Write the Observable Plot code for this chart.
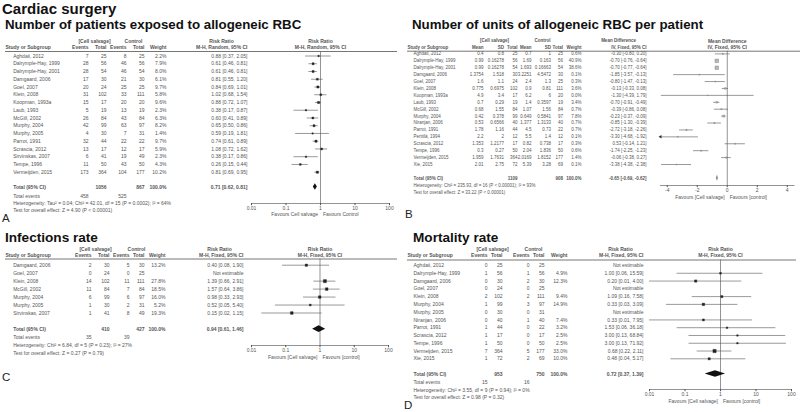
<!DOCTYPE html>
<html><head><meta charset="utf-8">
<script src="https://cdn.jsdelivr.net/npm/d3@7"></script>
<script src="https://cdn.jsdelivr.net/npm/@observablehq/plot@0.6"></script>
<style>
html,body{margin:0;padding:0;background:#fff;}
#page{position:relative;width:800px;height:412px;overflow:hidden;background:#fff;}
.ttl{position:absolute;font-family:"Liberation Sans",Arial,sans-serif;font-weight:700;color:#111;white-space:nowrap;line-height:1;}
.lett{position:absolute;font-family:"Liberation Sans",Arial,sans-serif;color:#222;font-size:11.5px;line-height:1;}
</style></head><body><div id="page"></div>
<script>
// ---------- shared ticks ----------
const logTicks = [0.01, 0.1, 1, 10, 100];
const mdTicks = [-4, -2, 0, 2, 4];

// ---------- Panel A: patients exposed to allogeneic RBC ----------
const studiesA = ["Aghdaii, 2012","Dalrymple-Hay, 1999","Dalrymple-Hay, 2001","Damgaard, 2006","Goel, 2007","Klein, 2008","Koopman, 1993a","Laub, 1993","McGill, 2002","Murphy, 2004","Murphy, 2005","Parrot, 1991","Scrascia, 2012","Sirvinskas, 2007","Tempe, 1996","Vermeijden, 2015"];
const csEventsA = [7,28,28,17,20,31,15,5,26,42,4,32,13,6,11,173];
const csTotalA  = [25,56,54,30,24,102,17,19,84,99,30,44,17,41,50,364];
const ctEventsA = [8,46,46,21,25,33,20,13,43,63,7,22,12,19,43,104];
const ctTotalA  = [25,56,54,30,25,111,20,19,84,97,31,22,17,49,50,177];
const weightA   = [2.2,7.9,8.0,6.1,9.7,5.8,9.6,2.3,6.3,8.2,1.4,9.7,5.9,2.3,4.3,10.2];
const rrA   = [0.88,0.61,0.61,0.81,0.84,1.02,0.88,0.38,0.60,0.65,0.59,0.74,1.08,0.38,0.26,0.81];
const lowA  = [0.37,0.46,0.46,0.55,0.69,0.68,0.72,0.17,0.41,0.50,0.19,0.61,0.72,0.17,0.15,0.69];
const highA = [2.05,0.81,0.81,1.20,1.01,1.54,1.07,0.87,0.89,0.86,1.81,0.89,1.62,0.86,0.44,0.95];
const totalsA = [1056, 867];
const eventSumsA = [458, 525];
const pooledA = [0.71, 0.62, 0.81];
const hetA = "Heterogeneity: Tau² = 0.04; Chi² = 42.01, df = 15 (P = 0.0002); I² = 64%";
const testA = "Test for overall effect: Z = 4.90 (P < 0.00001)";

// ---------- Panel B: units of allogeneic RBC per patient ----------
const studiesB = ["Aghdaii, 2012","Dalrymple-Hay, 1999","Dalrymple-Hay, 2001","Damgaard, 2006","Goel, 2007","Klein, 2008","Koopman, 1993a","Laub, 1993","McGill, 2002","Murphy, 2004","Niranjan, 2006","Parrot, 1991","Perttilä, 1994","Scrascia, 2012","Tempe, 1996","Vermeijden, 2015","Xie, 2015"];
const csMeanB = [0.4,0.99,0.99,1.3754,1.6,0.775,4.9,0.7,0.68,0.42,0.53,1.78,2.2,1.353,0.3,1.959,2.01];
const csSdB   = [0.8,0.16278,0.16278,1.518,1.1,0.6975,3.4,0.29,1.55,0.378,0.6566,1.16,2,1.2177,0.27,1.7631,2.75];
const csNB    = [25,56,54,30,24,102,17,19,84,99,40,44,12,17,50,364,72];
const ctMeanB = [0.7,1.69,1.693,3.2251,2.4,0.9,6.2,1.4,1.07,0.649,1.377,4.5,5.5,0.82,2.04,2.0169,5.39];
const ctSdB   = [1,0.163,0.16663,4.5472,1.3,0.81,6,0.3597,1.56,0.5841,1.3133,0.73,1.4,0.738,1.836,1.8152,3.28];
const ctNB    = [25,56,54,30,25,111,20,19,84,97,40,22,12,17,50,177,69];
const weightB = [0.6,40.9,38.6,0.1,0.3,3.6,0.0,3.4,0.7,7.8,0.7,0.7,0.1,0.3,0.6,1.4,0.1];
const mdB   = [-0.30,-0.70,-0.70,-1.85,-0.80,-0.13,-1.30,-0.70,-0.39,-0.23,-0.85,-2.72,-3.30,0.53,-1.74,-0.06,-3.38];
const lowB  = [-0.80,-0.76,-0.77,-3.57,-1.47,-0.33,-4.39,-0.91,-0.86,-0.37,-1.30,-3.18,-4.68,-0.14,-2.25,-0.38,-4.38];
const highB = [0.20,-0.64,-0.64,-0.13,-0.13,0.08,1.79,-0.49,0.08,-0.09,-0.39,-2.26,-1.92,1.21,-1.23,0.27,-2.38];
const totalsB = [1109, 908];
const pooledB = [-0.65, -0.69, -0.62];
const hetB = "Heterogeneity: Chi² = 235.93, df = 16 (P < 0.00001); I² = 93%";
const testB = "Test for overall effect: Z = 33.22 (P < 0.00001)";

// ---------- Panel C: infections rate ----------
const studiesC = ["Damgaard, 2006","Goel, 2007","Klein, 2008","McGill, 2002","Murphy, 2004","Murphy, 2005","Sirvinskas, 2007"];
const csEventsC = [2,0,14,11,6,1,1];
const csTotalC  = [30,24,102,84,99,30,41];
const ctEventsC = [5,0,11,7,6,2,8];
const ctTotalC  = [30,25,111,84,97,31,49];
const weightC = [13.2,null,27.8,18.5,16.0,5.2,19.3];
const rrC   = [0.40,null,1.39,1.57,0.98,0.52,0.15];
const lowC  = [0.08,null,0.66,0.64,0.33,0.05,0.02];
const highC = [1.90,null,2.91,3.86,2.93,5.40,1.15];
const totalsC = [410, 427];
const eventSumsC = [35, 39];
const pooledC = [0.94, 0.61, 1.46];
const hetC = "Heterogeneity: Chi² = 6.84, df = 5 (P = 0.23); I² = 27%";
const testC = "Test for overall effect: Z = 0.27 (P = 0.79)";

// ---------- Panel D: mortality rate ----------
const studiesD = ["Aghdaii, 2012","Dalrymple-Hay, 1999","Damgaard, 2006","Goel, 2007","Klein, 2008","Murphy, 2004","Murphy, 2005","Niranjan, 2006","Parrot, 1991","Scrascia, 2012","Tempe, 1996","Vermeijden, 2015","Xie, 2015"];
const csEventsD = [0,1,0,0,2,1,0,0,1,1,1,7,1];
const csTotalD  = [25,56,30,24,102,99,30,40,44,17,50,364,72];
const ctEventsD = [0,1,2,0,2,3,0,1,0,0,0,5,2];
const ctTotalD  = [25,56,30,25,111,97,31,40,22,17,50,177,69];
const weightD = [null,4.9,12.3,null,9.4,14.9,null,7.4,3.2,2.5,2.5,33.0,10.0];
const rrD   = [null,1.00,0.20,null,1.09,0.33,null,0.33,1.53,3.00,3.00,0.68,0.48];
const lowD  = [null,0.06,0.01,null,0.16,0.03,null,0.01,0.06,0.13,0.13,0.22,0.04];
const highD = [null,15.59,4.00,null,7.58,3.09,null,7.95,36.18,68.84,71.92,2.11,5.17];
const totalsD = [953, 750];
const eventSumsD = [15, 16];
const pooledD = [0.72, 0.37, 1.39];
const hetD = "Heterogeneity: Chi² = 3.55, df = 9 (P = 0.94); I² = 0%";
const testD = "Test for overall effect: Z = 0.98 (P = 0.32)";

// ---------- layout (pixels) ----------
const FONT = "Liberation Sans, Arial, sans-serif";
const TXT = "#555";
const LINE = "#666";

const page = document.getElementById("page");

function f2(v) { return v.toFixed(2); }
function ci(e, l, h) { return `${f2(e)} [${f2(l)}, ${f2(h)}]`; }
function rowConv(L) { const step = (L.last - L.first) / (L.n - 1); return px => (px - L.first) / step; }

// place a title by its baseline (Liberation Sans, line-height 1)
function addTitle(text, x, baseline, size) {
  const d = document.createElement("div");
  d.className = "ttl";
  d.textContent = text;
  d.style.left = x + "px";
  d.style.top = (baseline - 0.8465 * size) + "px";
  d.style.fontSize = size + "px";
  page.appendChild(d);
}
function addLetter(text, x, cy) {
  const d = document.createElement("div");
  d.className = "lett";
  d.textContent = text;
  d.style.left = x + "px";
  d.style.top = (cy - 5.5) + "px";
  page.appendChild(d);
}

function textMarks(cells, fs) {
  const marks = [];
  for (const bold of [false, true]) for (const a of ["start", "middle", "end"]) {
    const sub = cells.filter(c => !!c.bold === bold && c.a === a);
    if (sub.length) marks.push(Plot.text(sub, {x: "x", y: "y", text: "t", textAnchor: a, fontSize: fs, fill: TXT, fontWeight: bold ? "bold" : "normal"}));
  }
  return marks;
}

function tablePlot(L, cells) {
  return Plot.plot({
    width: 800, height: 412,
    marginTop: L.lineY, marginBottom: 0, marginLeft: L.lineX1, marginRight: 800 - L.lineX2,
    style: {background: "transparent", position: "absolute", left: "0px", top: "0px", overflow: "visible", fontFamily: FONT},
    x: {domain: [0, 800], range: [0, 800], axis: null},
    y: {domain: [0, L.n - 1], range: [L.first, L.last], axis: null},
    marks: [
      Plot.frame({anchor: "top", stroke: LINE, strokeWidth: 0.9}),
      ...textMarks(cells, L.fs)
    ]
  });
}

function forestPlot(L, F, rows, pooled, labels) {
  const row = rowConv(L);
  const totalRow = row(L.total);
  const h = F.diamondH;
  const diamond = [
    {x: pooled[1], y1: totalRow, y2: totalRow},
    {x: pooled[0], y1: totalRow - h, y2: totalRow + h},
    {x: pooled[2], y1: totalRow, y2: totalRow}
  ];
  const est = rows.filter(d => d.est != null);
  const dmin = F.domain[0];
  const fs = F.fs;
  return Plot.plot({
    width: 800, height: 412,
    marginTop: L.lineY, marginBottom: 412 - F.axisY, marginLeft: F.x0, marginRight: 800 - F.x1,
    style: {background: "transparent", position: "absolute", left: "0px", top: "0px", overflow: "visible", fontFamily: FONT},
    x: {type: F.type, domain: F.domain},
    y: {domain: [0, L.n - 1], range: [L.first, L.last], axis: null},
    r: {type: "sqrt", domain: [0, 41], range: [0.45, 2.0]},
    marks: [
      Plot.ruleX([F.center], {stroke: LINE, strokeWidth: 0.7}),
      Plot.frame({anchor: "bottom", stroke: LINE, strokeWidth: 0.7}),
      Plot.axisX({ticks: F.ticks, tickFormat: d => String(d), tickSize: 2.2, tickPadding: 1, fontSize: fs, color: TXT, label: null}),
      Plot.ruleY(est, {y: "i", x1: "low", x2: "high", stroke: "#555", strokeWidth: 0.6, clip: true}),
      Plot.dot(est.filter(d => d.low < dmin), {x: () => dmin, y: "i", symbol: "triangle", rotate: -90, r: 1.3, fill: "#333"}),
      Plot.dot(est, {x: "est", y: "i", r: "w", symbol: "square", fill: F.sqFill, stroke: F.sqStroke, strokeWidth: 0.4}),
      Plot.areaY(diamond, {x: "x", y1: "y1", y2: "y2", fill: "#111"}),
      Plot.text([labels.h1], {x: () => F.center, y: () => row(L.h1), text: d => d, fontSize: fs, fill: TXT, fontWeight: "bold"}),
      Plot.text([labels.h2], {x: () => F.center, y: () => row(L.h2), text: d => d, fontSize: fs, fill: TXT, fontWeight: "bold"}),
      Plot.text([labels.favL], {x: () => F.center, y: () => row(L.fav), text: d => d, dx: -2.5, textAnchor: "end", fontSize: fs, fill: TXT}),
      Plot.text([labels.favR], {x: () => F.center, y: () => row(L.fav), text: d => d, dx: 2.5, textAnchor: "start", fontSize: fs, fill: TXT})
    ]
  });
}

function rrCells(L, C, studies, ce, cn, te, tn, w, est, lo, hi, totals, evSums, pooled, het, test, method) {
  const row = rowConv(L);
  const cells = [];
  studies.forEach((s, i) => {
    cells.push({y: i, x: C.name, t: s, a: "start"});
    cells.push({y: i, x: C.ev1, t: String(ce[i]), a: "end"});
    cells.push({y: i, x: C.tot1, t: String(cn[i]), a: "end"});
    cells.push({y: i, x: C.ev2, t: String(te[i]), a: "end"});
    cells.push({y: i, x: C.tot2, t: String(tn[i]), a: "end"});
    cells.push({y: i, x: C.w, t: w[i] == null ? "" : w[i].toFixed(1) + "%", a: "end"});
    cells.push({y: i, x: C.ci, t: est[i] == null ? "Not estimable" : ci(est[i], lo[i], hi[i]), a: "end"});
  });
  const h1 = row(L.h1), h2 = row(L.h2);
  cells.push({y: h1, x: C.g1, t: "[Cell salvage]", a: "middle", bold: true});
  cells.push({y: h1, x: C.g2, t: "Control", a: "middle", bold: true});
  cells.push({y: h1, x: C.g3, t: "Risk Ratio", a: "middle", bold: true});
  cells.push({y: h2, x: C.head, t: "Study or Subgroup", a: "start", bold: true});
  cells.push({y: h2, x: C.ev1, t: "Events", a: "end", bold: true});
  cells.push({y: h2, x: C.tot1, t: "Total", a: "end", bold: true});
  cells.push({y: h2, x: C.ev2, t: "Events", a: "end", bold: true});
  cells.push({y: h2, x: C.tot2, t: "Total", a: "end", bold: true});
  cells.push({y: h2, x: C.w, t: "Weight", a: "end", bold: true});
  cells.push({y: h2, x: C.ci, t: method, a: "end", bold: true});
  const tr = row(L.total);
  cells.push({y: tr, x: C.name, t: "Total (95% CI)", a: "start", bold: true});
  cells.push({y: tr, x: C.tot1, t: String(totals[0]), a: "end", bold: true});
  cells.push({y: tr, x: C.tot2, t: String(totals[1]), a: "end", bold: true});
  cells.push({y: tr, x: C.w, t: "100.0%", a: "end", bold: true});
  cells.push({y: tr, x: C.ci, t: ci(pooled[0], pooled[1], pooled[2]), a: "end", bold: true});
  const er = row(L.events);
  cells.push({y: er, x: C.name, t: "Total events", a: "start"});
  cells.push({y: er, x: C.ev1, t: String(evSums[0]), a: "end"});
  cells.push({y: er, x: C.ev2, t: String(evSums[1]), a: "end"});
  cells.push({y: row(L.het), x: C.name, t: het, a: "start"});
  cells.push({y: row(L.test), x: C.name, t: test, a: "start"});
  return cells;
}

// ----- Panel A -----
const LA = {fs: 5.0, n: studiesA.length, first: 55.5, last: 171.7, lineY: 51, lineX1: 5, lineX2: 396, h1: 40.5, h2: 47, total: 186.5, events: 195.5, het: 202.5, test: 209.5, fav: 213.5};
const CA = {head: 5, name: 12.7, ev1: 88, tot1: 106, ev2: 126, tot2: 144, w: 166, ci: 247, g1: 94, g2: 133, g3: 221};
const FA = {fs: 5.0, type: "log", domain: [0.01, 100], x0: 251, x1: 389, axisY: 203, center: 1, ticks: logTicks, diamondH: 0.42, sqFill: "#222", sqStroke: "#222"};
// ----- Panel B -----
const LB = {fs: 4.5, n: studiesB.length, first: 53.4, last: 164, lineY: 50.7, lineX1: 407, lineX2: 800, h1: 40.5, h2: 47, total: 177.7, het: 185, test: 192, fav: 196.5};
const CB = {head: 407, name: 413, m1: 483, s1: 503.5, n1: 517, m2: 531, s2: 550.5, n2: 562.5, w: 581, ci: 646, g1: 494, g2: 542, g3: 618};
const FB = {fs: 5.0, type: "linear", domain: [-4.45, 4.45], x0: 660, x1: 793.5, axisY: 185, center: 0, ticks: mdTicks, diamondH: 0.45, sqFill: "#b8b8b8", sqStroke: "#777"};
// ----- Panel C -----
const LC = {fs: 5.0, n: studiesC.length, first: 264.7, last: 312.5, lineY: 258.5, lineX1: 5, lineX2: 396, h1: 249, h2: 254.5, total: 328.7, events: 337, het: 345, test: 352.7, fav: 357};
const CC = {head: 5, name: 12.7, ev1: 91, tot1: 109, ev2: 129, tot2: 144, w: 165, ci: 243, g1: 95, g2: 136, g3: 219};
const FC = {fs: 5.0, type: "log", domain: [0.01, 100], x0: 251, x1: 388, axisY: 345, center: 1, ticks: logTicks, diamondH: 0.42, sqFill: "#222", sqStroke: "#222"};
// ----- Panel D -----
const LD = {fs: 5.0, n: studiesD.length, first: 265, last: 358.3, lineY: 259.5, lineX1: 407, lineX2: 795, h1: 249, h2: 254.5, total: 373.5, events: 381.5, het: 389.5, test: 397, fav: 400.5};
const CD = {head: 407, name: 413, ev1: 487, tot1: 502, ev2: 529, tot2: 544, w: 567, ci: 643, g1: 492, g2: 533, g3: 620};
const FD = {fs: 5.0, type: "log", domain: [0.01, 100], x0: 649, x1: 791, axisY: 389, center: 1, ticks: logTicks, diamondH: 0.42, sqFill: "#222", sqStroke: "#222"};

// ----- titles (x, baseline, size) -----
addTitle("Cardiac surgery", 2, 13.7, 15);
addTitle("Number of patients exposed to allogeneic RBC", 5, 29.6, 13.3);
addTitle("Number of units of allogeneic RBC per patient", 412, 29.6, 13.3);
addTitle("Infections rate", 5, 242.3, 13.6);
addTitle("Mortality rate", 413, 242.3, 13.6);
addLetter("A", 2, 218);
addLetter("B", 405, 214);
addLetter("C", 2, 377);
addLetter("D", 404, 405);

function rows(est, lo, hi, w) { return est.map((e, i) => ({i, est: e, low: lo[i], high: hi[i], w: w[i]})); }

// A
page.appendChild(tablePlot(LA, rrCells(LA, CA, studiesA, csEventsA, csTotalA, ctEventsA, ctTotalA, weightA, rrA, lowA, highA, totalsA, eventSumsA, pooledA, hetA, testA, "M-H, Random, 95% CI")));
page.appendChild(forestPlot(LA, FA, rows(rrA, lowA, highA, weightA), pooledA, {h1: "Risk Ratio", h2: "M-H, Random, 95% CI", favL: "Favours Cell salvage", favR: "Favours Control"}));

// B
(function () {
  const row = rowConv(LB);
  const cells = [];
  studiesB.forEach((s, i) => {
    cells.push({y: i, x: CB.name, t: s, a: "start"});
    cells.push({y: i, x: CB.m1, t: String(csMeanB[i]), a: "end"});
    cells.push({y: i, x: CB.s1, t: String(csSdB[i]), a: "end"});
    cells.push({y: i, x: CB.n1, t: String(csNB[i]), a: "end"});
    cells.push({y: i, x: CB.m2, t: String(ctMeanB[i]), a: "end"});
    cells.push({y: i, x: CB.s2, t: String(ctSdB[i]), a: "end"});
    cells.push({y: i, x: CB.n2, t: String(ctNB[i]), a: "end"});
    cells.push({y: i, x: CB.w, t: weightB[i].toFixed(1) + "%", a: "end"});
    cells.push({y: i, x: CB.ci, t: ci(mdB[i], lowB[i], highB[i]), a: "end"});
  });
  const h1 = row(LB.h1), h2 = row(LB.h2);
  cells.push({y: h1, x: CB.g1, t: "[Cell salvage]", a: "middle", bold: true});
  cells.push({y: h1, x: CB.g2, t: "Control", a: "middle", bold: true});
  cells.push({y: h1, x: CB.g3, t: "Mean Difference", a: "middle", bold: true});
  cells.push({y: h2, x: CB.head, t: "Study or Subgroup", a: "start", bold: true});
  [["m1", "Mean"], ["s1", "SD"], ["n1", "Total"], ["m2", "Mean"], ["s2", "SD"], ["n2", "Total"], ["w", "Weight"], ["ci", "IV, Fixed, 95% CI"]]
    .forEach(([k, t]) => cells.push({y: h2, x: CB[k], t, a: "end", bold: true}));
  const tr = row(LB.total);
  cells.push({y: tr, x: CB.name, t: "Total (95% CI)", a: "start", bold: true});
  cells.push({y: tr, x: CB.n1, t: String(totalsB[0]), a: "end", bold: true});
  cells.push({y: tr, x: CB.n2, t: String(totalsB[1]), a: "end", bold: true});
  cells.push({y: tr, x: CB.w, t: "100.0%", a: "end", bold: true});
  cells.push({y: tr, x: CB.ci, t: ci(pooledB[0], pooledB[1], pooledB[2]), a: "end", bold: true});
  cells.push({y: row(LB.het), x: CB.name, t: hetB, a: "start"});
  cells.push({y: row(LB.test), x: CB.name, t: testB, a: "start"});
  page.appendChild(tablePlot(LB, cells));
  page.appendChild(forestPlot(LB, FB, rows(mdB, lowB, highB, weightB), pooledB, {h1: "Mean Difference", h2: "IV, Fixed, 95% CI", favL: "Favours [Cell salvage]", favR: "Favours [control]"}));
})();

// C
page.appendChild(tablePlot(LC, rrCells(LC, CC, studiesC, csEventsC, csTotalC, ctEventsC, ctTotalC, weightC, rrC, lowC, highC, totalsC, eventSumsC, pooledC, hetC, testC, "M-H, Fixed, 95% CI")));
page.appendChild(forestPlot(LC, FC, rows(rrC, lowC, highC, weightC), pooledC, {h1: "Risk Ratio", h2: "M-H, Fixed, 95% CI", favL: "Favours [Cell salvage]", favR: "Favours [control]"}));

// D
page.appendChild(tablePlot(LD, rrCells(LD, CD, studiesD, csEventsD, csTotalD, ctEventsD, ctTotalD, weightD, rrD, lowD, highD, totalsD, eventSumsD, pooledD, hetD, testD, "M-H, Fixed, 95% CI")));
page.appendChild(forestPlot(LD, FD, rows(rrD, lowD, highD, weightD), pooledD, {h1: "Risk Ratio", h2: "M-H, Fixed, 95% CI", favL: "Favours [Cell salvage]", favR: "Favours [control]"}));
</script></body></html>
